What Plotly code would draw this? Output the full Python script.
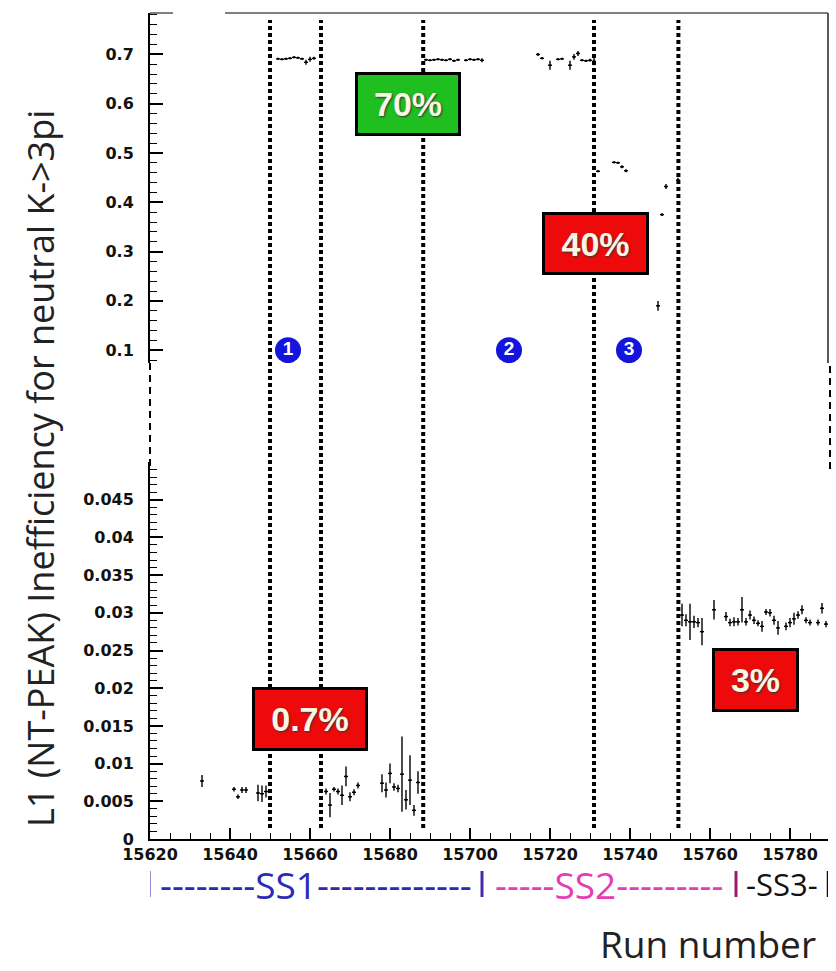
import plotly.graph_objects as go

# ---------------- data ----------------
upA_runs = [15652, 15653, 15654, 15655, 15656, 15657, 15658, 15659, 15660, 15661]
upA_vals = [0.691, 0.690, 0.691, 0.692, 0.694, 0.693, 0.691, 0.684, 0.690, 0.692]
upA_errs = [0.002, 0.002, 0.002, 0.002, 0.002, 0.002, 0.002, 0.005, 0.005, 0.003]

upB_runs = [15689, 15690, 15691, 15692, 15693, 15694, 15695, 15696, 15697, 15699, 15700, 15701, 15702, 15703]
upB_vals = [0.689, 0.688, 0.689, 0.690, 0.689, 0.688, 0.690, 0.687, 0.689, 0.688, 0.690, 0.689, 0.690, 0.688]
upB_errs = [0.002, 0.002, 0.002, 0.002, 0.002, 0.002, 0.002, 0.002, 0.002, 0.002, 0.002, 0.002, 0.002, 0.004]

upC_runs = [15717, 15718, 15720, 15722, 15723, 15725, 15726, 15727, 15728, 15729, 15730, 15731]
upC_vals = [0.700, 0.692, 0.678, 0.690, 0.691, 0.678, 0.695, 0.702, 0.688, 0.687, 0.688, 0.686]
upC_errs = [0.003, 0.002, 0.009, 0.002, 0.002, 0.009, 0.006, 0.005, 0.002, 0.002, 0.003, 0.008]

upD_runs = [15732, 15736, 15737, 15738, 15739, 15747, 15748, 15749, 15752]
upD_vals = [0.463, 0.481, 0.480, 0.472, 0.464, 0.190, 0.375, 0.432, 0.445]
upD_errs = [0.002, 0.002, 0.002, 0.003, 0.003, 0.010, 0.003, 0.005, 0.005]

loA_runs = [15633, 15641, 15642, 15643, 15644, 15647, 15648, 15649]
loA_vals = [0.0077, 0.0066, 0.0056, 0.0065, 0.0065, 0.0061, 0.0060, 0.0063]
loA_errs = [0.0008, 0.0003, 0.0003, 0.0004, 0.0004, 0.0011, 0.0011, 0.0008]

loB_runs = [15664, 15665, 15666, 15667, 15668, 15669, 15670, 15671, 15672]
loB_vals = [0.0063, 0.0045, 0.0066, 0.0063, 0.0058, 0.0083, 0.0056, 0.0062, 0.0071]
loB_errs = [0.0004, 0.0016, 0.0003, 0.0004, 0.0013, 0.0013, 0.0006, 0.0004, 0.0004]

loC_runs = [15678, 15679, 15680, 15681, 15682, 15683, 15684, 15685, 15686, 15687]
loC_vals = [0.0074, 0.0065, 0.0087, 0.0069, 0.0067, 0.0086, 0.0052, 0.0078, 0.0038, 0.0075]
loC_errs = [0.0012, 0.0010, 0.0013, 0.0005, 0.0005, 0.0050, 0.0013, 0.0033, 0.0007, 0.0015]

loD_runs = [15753, 15754, 15755, 15756, 15757, 15758, 15761, 15764, 15765, 15766,
            15767, 15768, 15769, 15770, 15771, 15772, 15773, 15774, 15775, 15776,
            15777, 15779, 15780, 15781, 15782, 15783, 15784, 15785, 15787, 15788, 15789]
loD_vals = [0.0297, 0.0290, 0.0288, 0.0288, 0.0287, 0.0275, 0.0304, 0.0295, 0.0287, 0.0288,
            0.0288, 0.0304, 0.0288, 0.0297, 0.0290, 0.0286, 0.0282, 0.0301, 0.0300, 0.0290,
            0.0280, 0.0282, 0.0287, 0.0292, 0.0297, 0.0304, 0.0290, 0.0287, 0.0287, 0.0306, 0.0285]
loD_errs = [0.0015, 0.0008, 0.0024, 0.0008, 0.0006, 0.0018, 0.0013, 0.0006, 0.0005, 0.0006,
            0.0005, 0.0017, 0.0005, 0.0006, 0.0005, 0.0004, 0.0007, 0.0004, 0.0005, 0.0006,
            0.0009, 0.0005, 0.0006, 0.0008, 0.0005, 0.0006, 0.0004, 0.0004, 0.0004, 0.0007, 0.0004]

# run boundaries (dotted lines)
cut_runs = [15650, 15662.75, 15688.3, 15731, 15752.1]

# numbered markers
num_labels = ["1", "2", "3"]
num_runs = [15654.5, 15709.75, 15739.75]
num_vals = [0.1, 0.1, 0.1]

# boxed labels
box_texts = ["70%", "40%", "0.7%", "3%"]
box_runs = [15684.5, 15731.4, 15660.0, 15771.4]
box_vals = [0.600, 0.316, 0.0159, 0.0211]
box_panel = ["y2", "y2", "y", "y"]
box_colors = ["#1fbf1f", "#ee0a0a", "#ee0a0a", "#ee0a0a"]
box_w = [106, 107, 116, 87]
box_h = [64, 63, 64, 64]

# super-stack labels below the run axis
ss_texts = ["--------SS1-------------", "-----SS2---------", "-SS3-"]
ss_text_colors = ["#2a2ab8", "#e83cb4", "#111111"]
ss_sizes = [37, 37, 31]
ss_bar_colors = ["#2a2ab8", "#4a2aa8", "#a01870", "#111111"]
ss_edges_runs = [15619.75, 15703.0, 15766.5, 15789.5]   # run positions of the separators

# axis ticks
x_ticks = [15620, 15640, 15660, 15680, 15700, 15720, 15740, 15760, 15780]
up_ticks = [0.1, 0.2, 0.3, 0.4, 0.5, 0.6, 0.7]
up_ticktext = ["0.1", "0.2", "0.3", "0.4", "0.5", "0.6", "0.7"]
lo_ticks = [0, 0.005, 0.01, 0.015, 0.02, 0.025, 0.03, 0.035, 0.04, 0.045]
lo_ticktext = ["0", "0.005", "0.01", "0.015", "0.02", "0.025", "0.03", "0.035", "0.04", "0.045"]

# ---------------- geometry helpers (pixels -> paper) ----------------
W, H = 836, 971
ML, MR, MT, MB = 150, 8, 13, 132
PW = W - ML - MR
PH = H - MT - MB
X_RANGE = [15620, 15789.5]


def px(x):
    return (x - ML) / PW


def py(y):
    return (H - MB - y) / PH


def run_to_px(r):
    return ML + (r - X_RANGE[0]) / (X_RANGE[1] - X_RANGE[0]) * PW


fig = go.Figure()


def add_series(runs, vals, errs, yaxis):
    fig.add_trace(go.Scatter(
        x=runs, y=vals, mode="markers", xaxis="x", yaxis=yaxis,
        marker=dict(size=2, color="black"),
        error_x=dict(type="constant", value=0.5, width=0, thickness=1.4, color="black"),
        error_y=dict(type="data", array=errs, width=0, thickness=1.4, color="black"),
        showlegend=False, hoverinfo="x+y",
    ))


add_series(upA_runs, upA_vals, upA_errs, "y2")
add_series(upB_runs, upB_vals, upB_errs, "y2")
add_series(upC_runs, upC_vals, upC_errs, "y2")
add_series(upD_runs, upD_vals, upD_errs, "y2")
add_series(loA_runs, loA_vals, loA_errs, "y")
add_series(loB_runs, loB_vals, loB_errs, "y")
add_series(loC_runs, loC_vals, loC_errs, "y")
add_series(loD_runs, loD_vals, loD_errs, "y")

# numbered circles
fig.add_trace(go.Scatter(
    x=num_runs, y=num_vals, mode="markers+text", xaxis="x", yaxis="y2",
    text=num_labels, textposition="middle center",
    textfont=dict(family="Liberation Sans", size=19, color="white", weight="bold"),
    marker=dict(size=26, color="#1414dc", line=dict(width=0)),
    showlegend=False, hoverinfo="skip",
))

shapes = []
# dotted vertical lines
for r in cut_runs:
    shapes.append(dict(type="line", xref="x", yref="paper", x0=r, x1=r,
                       y0=py(828), y1=py(20),
                       line=dict(color="black", width=4, dash="4px,3px")))
# frame pieces
shapes.append(dict(type="line", xref="paper", yref="paper", x0=px(150), x1=px(173),
                   y0=py(13), y1=py(13), line=dict(color="#555", width=1.5)))
shapes.append(dict(type="line", xref="paper", yref="paper", x0=px(225), x1=px(828),
                   y0=py(13), y1=py(13), line=dict(color="#555", width=1.5)))
shapes.append(dict(type="line", xref="paper", yref="paper", x0=px(828), x1=px(828),
                   y0=py(13), y1=py(363), line=dict(color="#222", width=1.5)))
# axis break (dashed)
shapes.append(dict(type="line", xref="paper", yref="paper", x0=px(150), x1=px(150),
                   y0=py(363), y1=py(470), line=dict(color="black", width=2, dash="7px,5px")))
shapes.append(dict(type="line", xref="paper", yref="paper", x0=px(830), x1=px(830),
                   y0=py(366), y1=py(470), line=dict(color="black", width=2, dash="7px,5px")))
# super-stack separators
for i, (r, col) in enumerate(zip(ss_edges_runs, ss_bar_colors)):
    shapes.append(dict(type="line", xref="x", yref="paper", x0=r, x1=r,
                       y0=py(897), y1=py(871),
                       line=dict(color=col, width=3 if i < 3 else 2.5)))

annotations = []
for t, r, v, p, c, w, h in zip(box_texts, box_runs, box_vals, box_panel, box_colors, box_w, box_h):
    annotations.append(dict(
        x=r, y=v, xref="x", yref=p, text="<b>" + t + "</b>", showarrow=False,
        xanchor="center", yanchor="middle",
        bgcolor=c, bordercolor="black", borderwidth=3, borderpad=0,
        width=w - 6, height=h - 6,
        font=dict(family="Liberation Sans", size=34, color="#fbf6e4",
                  shadow="1px 1px 2px #333"),
    ))

# y-axis title
annotations.append(dict(
    x=px(40), y=py(469), xref="paper", yref="paper", showarrow=False,
    text="L1 (NT-PEAK) Inefficiency for neutral K-&gt;3pi", textangle=-90,
    xanchor="center", yanchor="middle",
    font=dict(family="Open Sans", size=36, color="#222"),
))
# x-axis title
annotations.append(dict(
    x=px(818), y=py(943), xref="paper", yref="paper", showarrow=False,
    text="Run number", xanchor="right", yanchor="middle", height=40,
    font=dict(family="Open Sans", size=37, color="#222"),
))
# super-stack segment texts, centred between the separators
for a, b, t, col, sz in zip(ss_edges_runs[:-1], ss_edges_runs[1:], ss_texts, ss_text_colors, ss_sizes):
    annotations.append(dict(
        x=px((run_to_px(a) + run_to_px(b)) / 2), y=py(884), xref="paper", yref="paper",
        showarrow=False, text=t, xanchor="center", yanchor="middle",
        height=30, valign="middle",
        font=dict(family="Open Sans", size=sz, color=col),
    ))

tickfont = dict(family="DejaVu Sans", size=16, color="#111", weight="bold")

fig.update_layout(
    width=W, height=H,
    margin=dict(l=ML, r=MR, t=MT, b=MB, pad=0, autoexpand=False),
    paper_bgcolor="white", plot_bgcolor="white",
    showlegend=False,
    xaxis=dict(
        domain=[0, 1], anchor="y", range=X_RANGE, automargin=False,
        tickvals=x_ticks, ticktext=[str(v) for v in x_ticks],
        ticks="inside", ticklen=11, tickwidth=1.5, tickcolor="black",
        minor=dict(dtick=5, tick0=15620, ticks="inside", ticklen=6, tickwidth=1, tickcolor="black"),
        showline=True, linewidth=2, linecolor="black",
        showgrid=False, zeroline=False, tickfont=dict(tickfont, size=16),
    ),
    yaxis=dict(
        domain=[0, py(462)], anchor="x", range=[0, 0.05], automargin=False,
        tickvals=lo_ticks, ticktext=lo_ticktext,
        ticks="inside", ticklen=13, tickwidth=1.5, tickcolor="black",
        minor=dict(dtick=0.001, tick0=0, ticks="inside", ticklen=7, tickwidth=1, tickcolor="black"),
        showline=True, linewidth=2, linecolor="black",
        showgrid=False, zeroline=False, tickfont=dict(tickfont, size=16),
        ticklabelstandoff=11,
    ),
    yaxis2=dict(
        domain=[py(363), 1], anchor="x", range=[0.074, 0.784], automargin=False,
        tickvals=up_ticks, ticktext=up_ticktext,
        ticks="inside", ticklen=13, tickwidth=1.5, tickcolor="black",
        minor=dict(dtick=0.02, tick0=0, ticks="inside", ticklen=7, tickwidth=1, tickcolor="black"),
        showline=True, linewidth=2, linecolor="black",
        showgrid=False, zeroline=False, tickfont=dict(tickfont, size=16),
        ticklabelstandoff=11,
    ),
    shapes=shapes,
    annotations=annotations,
)

fig.write_html("out.html")
